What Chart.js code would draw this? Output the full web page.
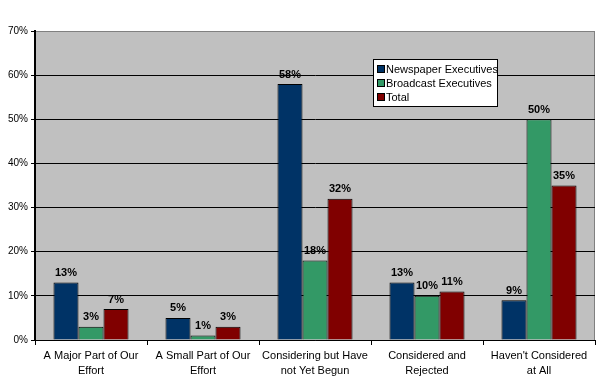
<!DOCTYPE html>
<html>
<head>
<meta charset="utf-8">
<script src="https://cdn.jsdelivr.net/npm/chart.js@4/dist/chart.umd.min.js"></script>
<style>
  body { margin: 0; background: #fff; }
  #wrap { width: 600px; height: 387px; position: relative; }
</style>
</head>
<body>
<div id="wrap"><canvas id="chart"></canvas></div>
<script>
// dados
var categorias = [
    ['A Major Part of Our', 'Effort'],
    ['A Small Part of Our', 'Effort'],
    ['Considering but Have', 'not Yet Begun'],
    ['Considered and', 'Rejected'],
    ["Haven't Considered", 'at All']
]
var jornal = [13, 5, 58, 13, 9]
var radiodifusao = [3, 1, 18, 10, 50]
var total = [7, 3, 32, 11, 35]
var ticksY = [0, 10, 20, 30, 40, 50, 60, 70]

var fonte = 'Arial, "Liberation Sans", sans-serif'

// fundo cinza da área do gráfico
var fundo = {
    id: 'fundo',
    beforeDraw(chart) {
        let a = chart.chartArea
        let ctx = chart.ctx
        ctx.save()
        ctx.fillStyle = '#c0c0c0'
        ctx.fillRect(a.left, a.top, a.right - a.left, a.bottom - a.top)
        ctx.strokeStyle = '#808080'
        ctx.lineWidth = 1
        ctx.beginPath()
        ctx.moveTo(a.left, a.top + 0.5)
        ctx.lineTo(a.right - 0.5, a.top + 0.5)
        ctx.lineTo(a.right - 0.5, a.bottom)
        ctx.stroke()
        ctx.restore()
    }
}

// rótulos de valores e legenda
var extras = {
    id: 'extras',
    afterDraw(chart) {
        let ctx = chart.ctx
        ctx.save()
        ctx.font = 'bold 11px ' + fonte
        ctx.fillStyle = '#000'
        ctx.textAlign = 'center'
        ctx.textBaseline = 'bottom'
        chart.data.datasets.forEach((ds, i) => {
            chart.getDatasetMeta(i).data.forEach((bar, j) => {
                ctx.fillText(ds.data[j] + '%', bar.x, bar.y - 4)
            })
        })
        // legenda
        let x = 373, y = 59, w = 124, h = 47
        ctx.fillStyle = '#fff'
        ctx.fillRect(x, y, w, h)
        ctx.strokeStyle = '#000'
        ctx.lineWidth = 1
        ctx.strokeRect(x + 0.5, y + 0.5, w, h)
        ctx.font = '11px ' + fonte
        ctx.textAlign = 'left'
        ctx.textBaseline = 'middle'
        chart.data.datasets.forEach((ds, i) => {
            let cy = y + 10 + i * 14
            ctx.fillStyle = ds.backgroundColor
            ctx.fillRect(x + 4, cy - 4, 7, 7)
            ctx.strokeRect(x + 4.5, cy - 3.5, 7, 7)
            ctx.fillStyle = '#000'
            ctx.fillText(ds.label, x + 13, cy + 1)
        })
        ctx.restore()
    }
}

const ctx = document.getElementById('chart').getContext('2d')
const chart = new Chart(ctx, {
    type: 'bar',
    data: {
        labels: categorias,
        datasets: [{
            label: 'Newspaper Executives',
            data: jornal,
            backgroundColor: '#003366',
            borderColor: '#000',
            borderWidth: 1
        }, {
            label: 'Broadcast Executives',
            data: radiodifusao,
            backgroundColor: '#339966',
            borderColor: '#000',
            borderWidth: 1
        }, {
            label: 'Total',
            data: total,
            backgroundColor: '#800000',
            borderColor: '#000',
            borderWidth: 1
        }]
    },
    options: {
        responsive: true,
        maintainAspectRatio: false,
        animation: false,
        layout: { padding: { top: 31, right: 5, left: 0, bottom: 0 } },
        categoryPercentage: 0.67,
        barPercentage: 1.0,
        plugins: {
            legend: { display: false },
            tooltip: { enabled: false }
        },
        scales: {
            x: {
                grid: {
                    offset: true,
                    drawOnChartArea: false,
                    drawTicks: true,
                    tickLength: 5,
                    color: '#000'
                },
                border: { color: '#000', width: 1 },
                ticks: {
                    color: '#000',
                    font: { family: fonte, size: 11, lineHeight: 1.35 },
                    maxRotation: 0,
                    autoSkip: false,
                    padding: 4
                },
                afterFit(axis) { axis.height = 47 }
            },
            y: {
                min: 0,
                max: 70,
                afterBuildTicks(axis) {
                    axis.ticks = ticksY.map(v => ({ value: v }))
                },
                grid: {
                    color: (c) => c.tick && c.tick.value === 70 ? '#808080' : '#000',
                    tickColor: '#000',
                    tickLength: 4
                },
                border: { color: '#000', width: 2 },
                ticks: {
                    color: '#000',
                    font: { family: fonte, size: 10 },
                    padding: 3,
                    callback: (v) => v + '%'
                },
                afterFit(axis) { axis.width = 35 }
            }
        }
    },
    plugins: [fundo, extras]
})
</script>
</body>
</html>
